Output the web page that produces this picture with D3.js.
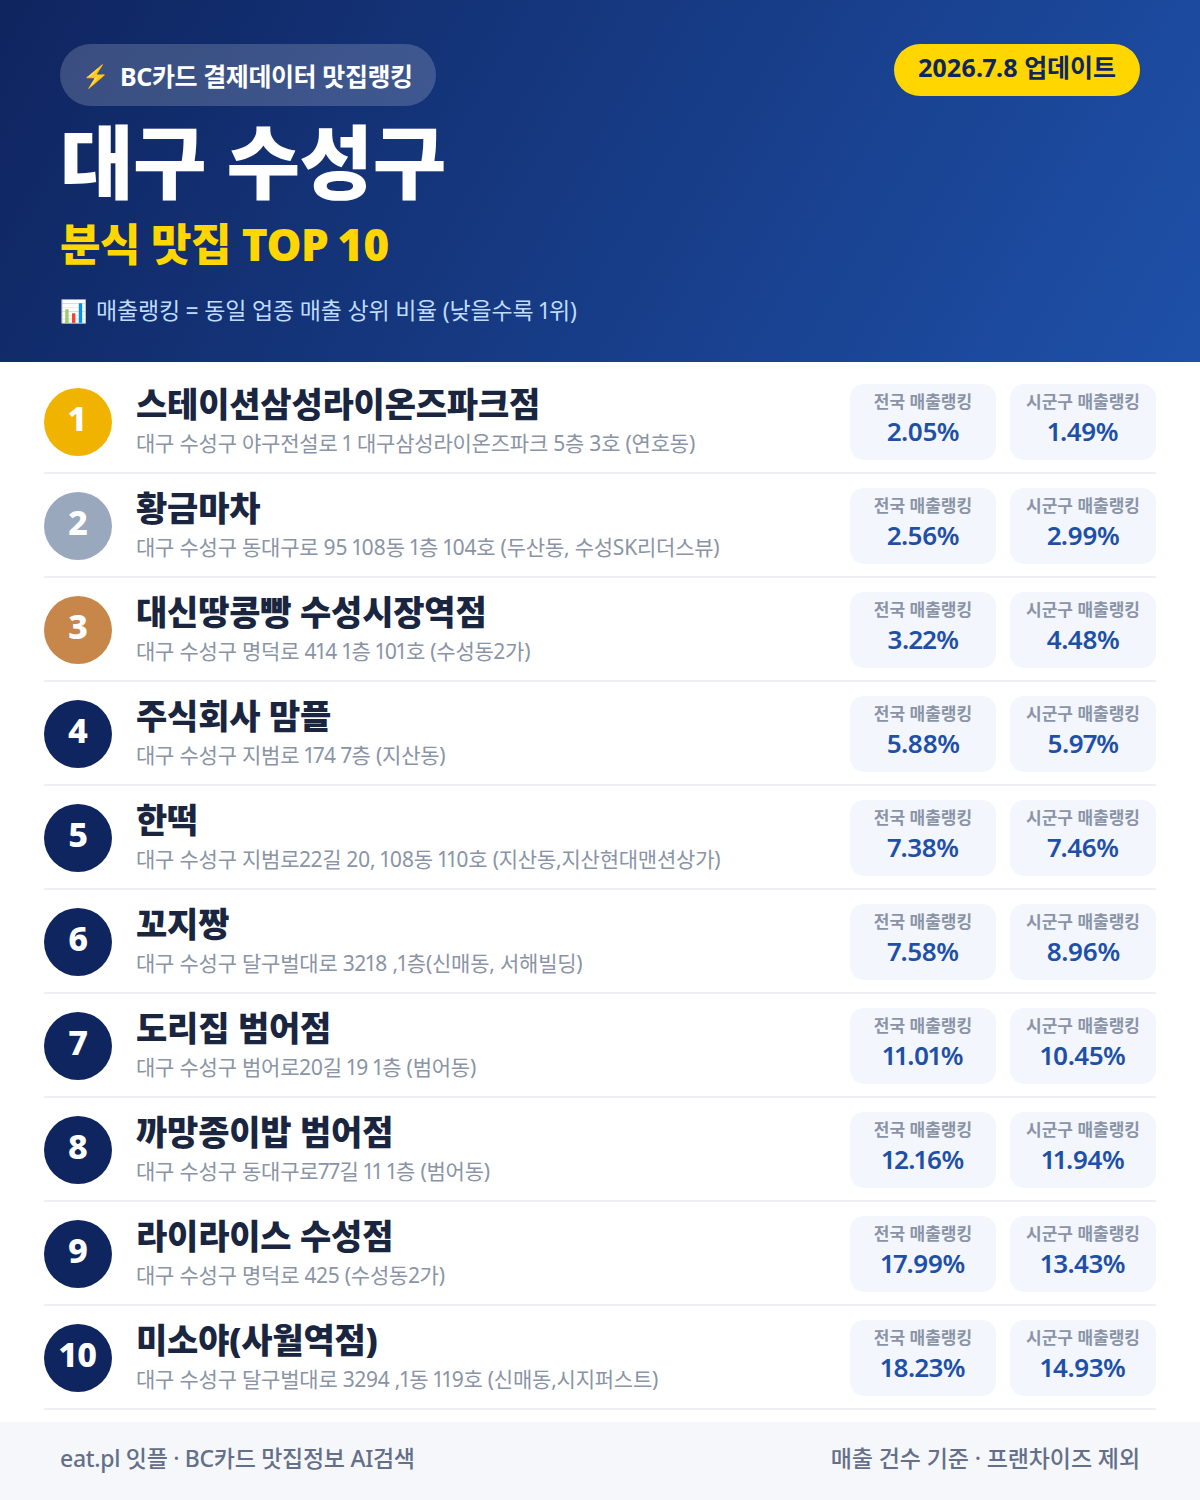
<!DOCTYPE html>
<html lang="ko"><head><meta charset="utf-8">
<script src="https://cdn.jsdelivr.net/npm/d3@7/dist/d3.min.js"></script>
<style>html,body{margin:0;padding:0;background:#fff}svg{display:block}text{font-family:"Noto Sans","Noto Sans CJK KR",sans-serif;font-variant-numeric:proportional-nums}</style>
</head><body><div id="chart"></div>
<script>
const ranks=[1,2,3,4,5,6,7,8,9,10];
const names=["스테이션삼성라이온즈파크점","황금마차","대신땅콩빵 수성시장역점","주식회사 맘플","한떡","꼬지짱","도리집 범어점","까망종이밥 범어점","라이라이스 수성점","미소야(사월역점)"];
const addresses=["대구 수성구 야구전설로 1 대구삼성라이온즈파크 5층 3호 (연호동)","대구 수성구 동대구로 95 108동 1층 104호 (두산동, 수성SK리더스뷰)","대구 수성구 명덕로 414 1층 101호 (수성동2가)","대구 수성구 지범로 174 7층 (지산동)","대구 수성구 지범로22길 20, 108동 110호 (지산동,지산현대맨션상가)","대구 수성구 달구벌대로 3218 ,1층(신매동, 서해빌딩)","대구 수성구 범어로20길 19 1층 (범어동)","대구 수성구 동대구로77길 11 1층 (범어동)","대구 수성구 명덕로 425 (수성동2가)","대구 수성구 달구벌대로 3294 ,1동 119호 (신매동,시지퍼스트)"];
const national=[2.05,2.56,3.22,5.88,7.38,7.58,11.01,12.16,17.99,18.23];
const district=[1.49,2.99,4.48,5.97,7.46,8.96,10.45,11.94,13.43,14.93];
const cardLabels=["전국 매출랭킹","시군구 매출랭킹"];
const W=1200,H=1500;
const svg=d3.select("#chart").append("svg").attr("width",W).attr("height",H).attr("viewBox",[0,0,W,H]);
const defs=svg.append("defs");
const g=defs.append("linearGradient").attr("id","hd").attr("gradientUnits","userSpaceOnUse").attr("x1",84).attr("y1",-120).attr("x2",1116).attr("y2",482);
g.append("stop").attr("offset",0).attr("stop-color","#0f2560");
g.append("stop").attr("offset",1).attr("stop-color","#1e50a8");
svg.append("rect").attr("width",W).attr("height",362).attr("fill","url(#hd)");
const T=(x,y,s,size,weight,fill,ls=0,anchor="start",p=svg)=>p.append("text").attr("x",x).attr("y",y).attr("font-size",size).attr("font-weight",weight).attr("fill",fill).attr("letter-spacing",ls).attr("text-anchor",anchor).text(s);
svg.append("rect").attr("x",60).attr("y",44).attr("width",376).attr("height",62).attr("rx",31).attr("fill","#fff").attr("fill-opacity",.18);
T(82,84,"⚡",22,400,"#ffc107");
T(120,86,"BC카드 결제데이터 맛집랭킹",25,700,"#fff",-.4);
svg.append("rect").attr("x",894).attr("y",44).attr("width",246).attr("height",52).attr("rx",26).attr("fill","#ffd600");
T(1017,77,"2026.7.8 업데이트",25,700,"#0f2560",-.1,"middle");
T(60,192,"대구 수성구",80,900,"#fff",-.5);
T(60,261,"분식 맛집 TOP 10",44,900,"#ffd600",-.5);
T(60,319,"📊",22,400,"#fff");
T(96,319,"매출랭킹 = 동일 업종 매출 상위 비율 (낮을수록 1위)",23,400,"#bfdbfe",-.2);
const y=d3.scaleBand().domain(ranks).range([370,1410]);
const rankFill=r=>r===1?"#f0b400":r===2?"#9aa8be":r===3?"#c8874a":"#0f2560";
const pct=d3.format(".2f");
const rows=svg.selectAll("g.row").data(ranks).join("g").attr("class","row").attr("transform",r=>`translate(0,${y(r)})`);
rows.append("circle").attr("cx",78).attr("cy",52).attr("r",34).attr("fill",rankFill);
rows.append("text").attr("x",78).attr("y",61).attr("text-anchor","middle").attr("font-size",34).attr("font-weight",800).attr("fill","#fff").attr("letter-spacing",r=>r===10?-1:0).text(r=>r);
rows.append("text").attr("x",136).attr("y",47).attr("font-size",34).attr("font-weight",900).attr("fill","#1a2540").attr("letter-spacing",-.2).text((r,i)=>names[i]);
rows.append("text").attr("x",136).attr("y",81).attr("font-size",21).attr("font-weight",400).attr("fill","#8a94a6").attr("letter-spacing",-.22).text((r,i)=>addresses[i]);
rows.append("line").attr("x1",44).attr("x2",1156).attr("y1",103).attr("y2",103).attr("stroke","#eef0f4").attr("stroke-width",2);
[[850,national],[1010,district]].forEach(([cx,vals],k)=>{
 rows.append("rect").attr("x",cx).attr("y",14).attr("width",146).attr("height",76).attr("rx",14).attr("fill","#f3f6fd");
 rows.append("text").attr("x",cx+73).attr("y",38).attr("text-anchor","middle").attr("font-size",17).attr("font-weight",700).attr("fill","#8a94a6").text(cardLabels[k]);
 rows.append("text").attr("x",cx+73).attr("y",71).attr("text-anchor","middle").attr("font-size",26).attr("font-weight",600).attr("fill","#1e50a8").attr("letter-spacing",-.6).text((r,i)=>pct(vals[i])+"%");
});
svg.append("rect").attr("y",1422).attr("width",W).attr("height",78).attr("fill","#f6f7fb");
T(60,1467,"eat.pl 잇플 · BC카드 맛집정보 AI검색",23,500,"#64708a",-.3);
T(1140,1467,"매출 건수 기준 · 프랜차이즈 제외",23,500,"#64708a",-.1,"end");
</script></body></html>
